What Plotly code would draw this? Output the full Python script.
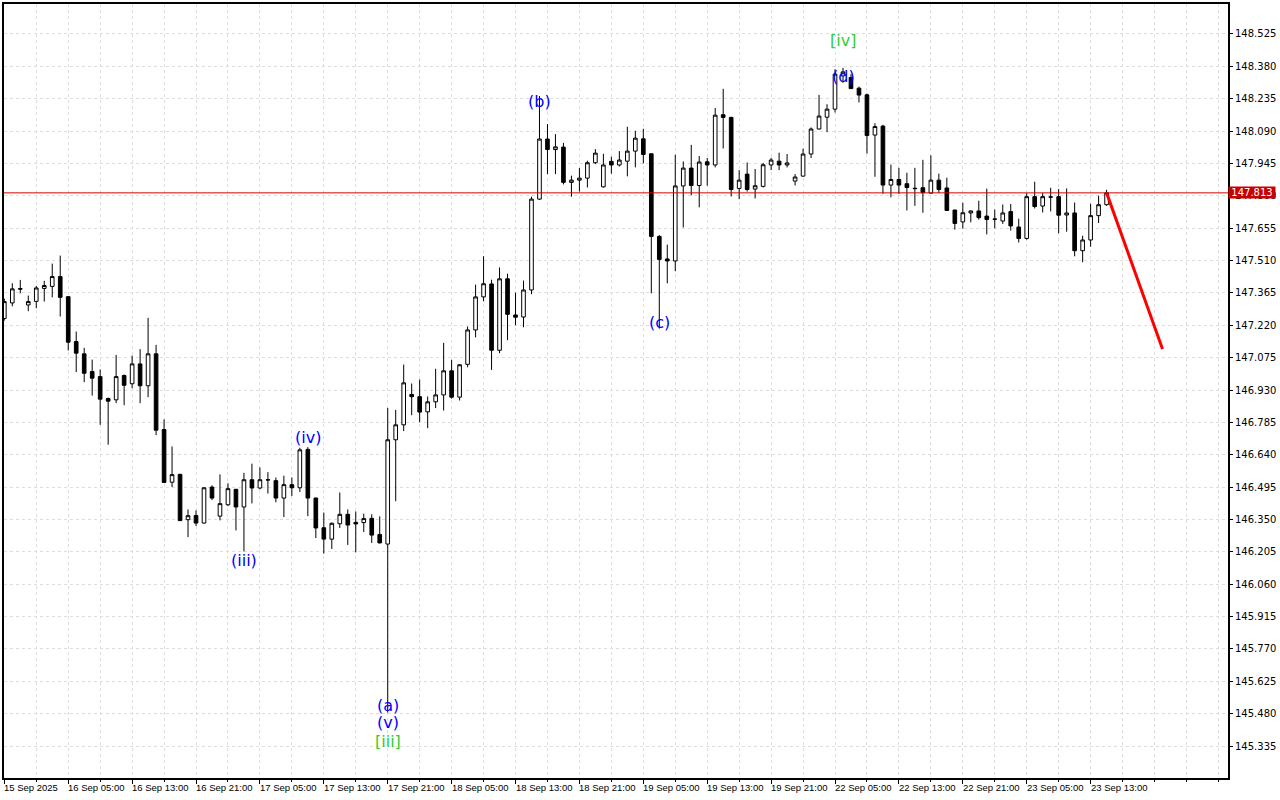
import plotly.graph_objects as go

# ---------------- data (USDJPY H1) ----------------
opens = [147.250, 147.320, 147.384, 147.311, 147.327, 147.385, 147.394, 147.438, 147.348, 147.147,
         147.092, 147.013, 146.990, 146.892, 146.886, 146.995, 146.958, 147.047, 146.949, 147.092,
         146.753, 146.517, 146.552, 146.349, 146.368, 146.334, 146.495, 146.365, 146.416, 146.485,
         146.406, 146.528, 146.491, 146.528, 146.524, 146.446, 146.506, 146.492, 146.664, 146.446,
         146.313, 146.262, 146.331, 146.373, 146.337, 146.336, 146.355, 146.283, 146.240, 146.707,
         146.774, 146.910, 146.900, 146.832, 146.877, 146.908, 147.016, 146.898, 147.045, 147.199,
         147.347, 147.405, 147.108, 147.428, 147.266, 147.257, 147.378, 147.785, 148.054, 148.007,
         148.018, 147.860, 147.870, 147.879, 147.948, 147.840, 147.954, 147.938, 147.955, 148.000,
         148.055, 147.988, 147.618, 147.517, 147.508, 147.844, 147.924, 147.846, 147.952, 147.938,
         148.163, 148.151, 147.833, 147.897, 147.830, 147.842, 147.938, 147.955, 147.938, 147.866,
         147.888, 147.987, 148.099, 148.152, 148.188, 148.337, 148.330, 148.282, 148.252, 148.072,
         148.112, 147.848, 147.873, 147.854, 147.834, 147.836, 147.812, 147.870, 147.835, 147.736,
         147.683, 147.723, 147.732, 147.709, 147.696, 147.687, 147.729, 147.660, 147.609, 147.796,
         147.754, 147.795, 147.796, 147.714, 147.723, 147.554, 147.602, 147.711, 147.760]
highs = [147.339, 147.408, 147.423, 147.353, 147.396, 147.419, 147.496, 147.532, 147.350, 147.192,
         147.119, 147.066, 147.022, 146.896, 147.087, 146.999, 147.084, 147.113, 147.253, 147.132,
         146.798, 146.677, 146.555, 146.395, 146.391, 146.494, 146.503, 146.552, 146.512, 146.487,
         146.559, 146.600, 146.583, 146.562, 146.538, 146.546, 146.538, 146.671, 146.674, 146.448,
         146.381, 146.336, 146.471, 146.395, 146.386, 146.376, 146.373, 146.364, 146.850, 146.841,
         147.044, 146.959, 146.977, 146.901, 147.025, 147.141, 147.065, 147.045, 147.214, 147.402,
         147.529, 147.424, 147.479, 147.451, 147.366, 147.420, 147.796, 148.247, 148.121, 148.076,
         148.037, 147.890, 147.924, 147.957, 148.009, 147.988, 147.975, 148.000, 148.109, 148.091,
         148.100, 147.990, 147.624, 147.581, 147.984, 147.954, 148.028, 147.978, 147.969, 148.193,
         148.279, 148.154, 147.915, 147.949, 147.920, 147.947, 147.970, 147.993, 147.987, 147.897,
         148.011, 148.106, 148.252, 148.210, 148.367, 148.373, 148.345, 148.289, 148.258, 148.125,
         148.118, 147.940, 147.925, 147.903, 147.925, 147.961, 147.981, 147.899, 147.881, 147.738,
         147.769, 147.734, 147.778, 147.832, 147.738, 147.761, 147.763, 147.697, 147.812, 147.863,
         147.812, 147.836, 147.830, 147.833, 147.770, 147.621, 147.764, 147.800, 147.827]
lows = [147.241, 147.305, 147.363, 147.283, 147.296, 147.326, 147.345, 147.259, 147.107, 147.010,
        146.965, 146.905, 146.774, 146.685, 146.871, 146.862, 146.938, 146.871, 146.898, 146.728,
        146.513, 146.495, 146.343, 146.271, 146.321, 146.332, 146.437, 146.346, 146.410, 146.301,
        146.207, 146.422, 146.485, 146.466, 146.427, 146.361, 146.455, 146.473, 146.365, 146.267,
        146.197, 146.218, 146.312, 146.236, 146.203, 146.294, 146.245, 146.243, 145.485, 146.432,
        146.746, 146.817, 146.786, 146.759, 146.849, 146.838, 146.891, 146.883, 147.032, 147.166,
        147.327, 147.020, 147.095, 147.153, 147.220, 147.211, 147.359, 147.782, 147.897, 147.897,
        147.851, 147.796, 147.819, 147.837, 147.942, 147.837, 147.899, 147.931, 147.887, 147.927,
        147.945, 147.363, 147.205, 147.408, 147.462, 147.658, 147.802, 147.748, 147.845, 147.927,
        148.012, 147.797, 147.785, 147.819, 147.788, 147.837, 147.915, 147.915, 147.927, 147.846,
        147.886, 147.969, 148.097, 148.085, 148.173, 148.306, 148.279, 148.218, 147.989, 147.885,
        147.809, 147.793, 147.808, 147.734, 147.755, 147.724, 147.810, 147.812, 147.732, 147.648,
        147.653, 147.681, 147.693, 147.627, 147.654, 147.674, 147.644, 147.591, 147.603, 147.743,
        147.725, 147.730, 147.632, 147.639, 147.529, 147.502, 147.572, 147.678, 147.755]
closes = [147.326, 147.383, 147.382, 147.326, 147.387, 147.398, 147.438, 147.345, 147.144, 147.095,
          147.005, 146.983, 146.889, 146.880, 146.990, 146.951, 147.047, 146.949, 147.092, 146.750,
          146.516, 146.551, 146.345, 146.367, 146.334, 146.492, 146.446, 146.421, 146.488, 146.406,
          146.528, 146.491, 146.528, 146.527, 146.446, 146.506, 146.492, 146.662, 146.446, 146.312,
          146.262, 146.333, 146.373, 146.325, 146.330, 146.354, 146.280, 146.245, 146.707, 146.774,
          146.962, 146.900, 146.831, 146.877, 146.908, 147.016, 146.898, 147.043, 147.199, 147.347,
          147.406, 147.108, 147.428, 147.269, 147.256, 147.378, 147.785, 148.054, 148.007, 148.019,
          147.860, 147.870, 147.879, 147.948, 147.991, 147.938, 147.938, 147.960, 148.000, 148.058,
          147.985, 147.618, 147.515, 147.508, 147.844, 147.924, 147.846, 147.951, 147.938, 148.161,
          148.151, 147.828, 147.870, 147.828, 147.845, 147.939, 147.960, 147.938, 147.947, 147.884,
          147.987, 148.099, 148.157, 148.188, 148.345, 148.355, 148.280, 148.251, 148.070, 148.110,
          147.848, 147.873, 147.848, 147.837, 147.832, 147.814, 147.870, 147.828, 147.734, 147.676,
          147.724, 147.732, 147.702, 147.694, 147.695, 147.723, 147.665, 147.609, 147.796, 147.752,
          147.796, 147.794, 147.713, 147.723, 147.554, 147.602, 147.711, 147.760, 147.813]

# x-axis labels (one every 8 hourly bars)
tick_idx = [0, 8, 16, 24, 32, 40, 48, 56, 64, 72, 80, 88, 96, 104, 112, 120, 128, 136]
tick_text = ["15 Sep 2025", "16 Sep 05:00", "16 Sep 13:00", "16 Sep 21:00", "17 Sep 05:00",
             "17 Sep 13:00", "17 Sep 21:00", "18 Sep 05:00", "18 Sep 13:00", "18 Sep 21:00",
             "19 Sep 05:00", "19 Sep 13:00", "19 Sep 21:00", "22 Sep 05:00", "22 Sep 13:00",
             "22 Sep 21:00", "23 Sep 05:00", "23 Sep 13:00"]

y_ticks = [145.335, 145.480, 145.625, 145.770, 145.915, 146.060, 146.205, 146.350, 146.495,
           146.640, 146.785, 146.930, 147.075, 147.220, 147.365, 147.510, 147.655, 147.800,
           147.945, 148.090, 148.235, 148.380, 148.525]

# Elliott wave labels
wave_text = ["(iii)", "(iv)", "(a)", "(v)", "[iii]", "(b)", "(c)", "(d)", "[iv]"]
wave_idx = [30, 38, 48, 48, 48, 67, 82, 105, 105]
wave_price = [146.167, 146.717, 145.518, 145.442, 145.357, 148.221, 147.232, 148.333, 148.494]
wave_color = ["blue", "blue", "blue", "blue", "limegreen", "blue", "blue", "blue", "limegreen"]

# forecast line
fc_idx = [138, 145]
fc_price = [147.813, 147.114]

x = list(range(len(opens)))
last_price = closes[-1]

GRID = "#dedede"
XFONT = "Liberation Sans"
YFONT = "DejaVu Sans"

fig = go.Figure()
fig.add_trace(go.Candlestick(
    x=x, open=opens, high=highs, low=lows, close=closes,
    increasing=dict(fillcolor="white", line=dict(color="black", width=1)),
    decreasing=dict(fillcolor="black", line=dict(color="black", width=1)),
    whiskerwidth=0, showlegend=False, hoverinfo="skip",
))
fig.add_trace(go.Scatter(
    x=fc_idx, y=fc_price, mode="lines",
    line=dict(color="#ff0000", width=3), showlegend=False, hoverinfo="skip",
))

fig.add_shape(type="line", xref="paper", x0=0, x1=1, y0=last_price, y1=last_price,
              line=dict(color="#d40000", width=1), layer="above")

for t, i, p, c in zip(wave_text, wave_idx, wave_price, wave_color):
    fig.add_annotation(x=i, y=p, text=t, showarrow=False,
                       font=dict(family="DejaVu Sans", size=16, color=c))

for i, t in zip(tick_idx, tick_text):
    fig.add_annotation(x=i, xref="x", y=0, yref="paper", text=t, showarrow=False,
                       xanchor="left", yanchor="top", yshift=-2, xshift=-2,
                       font=dict(family=XFONT, size=9.5, color="black"))

fig.add_annotation(x=1, xref="paper", y=last_price, yref="y", text=f"{last_price:.3f}",
                   showarrow=False, xanchor="left", xshift=0, bgcolor="#c80000",
                   width=46, height=11, align="center", valign="middle",
                   borderpad=0, font=dict(family=YFONT, size=10, color="white"))

fig.update_layout(
    width=1280, height=800,
    margin=dict(l=2, r=52, t=3, b=22),
    paper_bgcolor="white", plot_bgcolor="white",
    boxgap=0.35,
    font=dict(family=YFONT, size=10, color="black"),
    xaxis=dict(
        range=[-0.04, 153.2], rangeslider=dict(visible=False),
        tickvals=tick_idx, showticklabels=False, ticks="outside", ticklen=4,
        tickcolor="black",
        showgrid=True, gridcolor=GRID, griddash="3px,3px", gridwidth=1,
        minor=dict(dtick=4, tick0=0, showgrid=True, gridcolor=GRID, griddash="3px,3px",
                   ticks="outside", ticklen=2, tickcolor="black"),
        showline=True, linecolor="black", linewidth=2, mirror=True, zeroline=False,
    ),
    yaxis=dict(
        range=[145.192, 148.659], side="right",
        tickvals=y_ticks, tickformat=".3f", ticks="outside", ticklen=3, tickcolor="black",
        showgrid=True, gridcolor=GRID, griddash="3px,3px", gridwidth=1,
        showline=True, linecolor="black", linewidth=2, mirror=True, zeroline=False,
        tickfont=dict(family=YFONT, size=10, color="black"),
    ),
)

fig.write_html("out.html", config={"displayModeBar": False},
               post_script="document.body.style.margin='0px';")
